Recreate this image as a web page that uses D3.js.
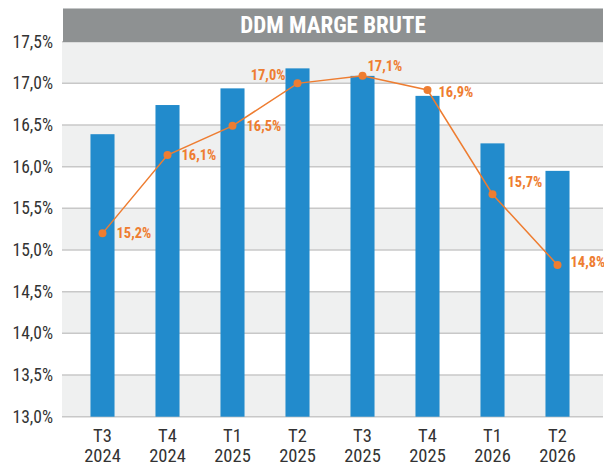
<!DOCTYPE html>
<html>
<head>
<meta charset="utf-8">
<script src="https://cdn.jsdelivr.net/npm/d3@7"></script>
<style>
  body { margin: 0; background: #fff; }
  svg { display: block; }
  text { font-family: "Roboto Condensed", "Liberation Sans Narrow", Roboto, sans-serif; }
</style>
</head>
<body>
<svg id="chart" width="604" height="467"></svg>
<script>
"use strict";

// Data //////////////////////////////////////////////////
var quarters = ["T3", "T4", "T1", "T2", "T3", "T4", "T1", "T2"];
var years = ["2024", "2024", "2025", "2025", "2025", "2025", "2026", "2026"];
var barValues = [16.39, 16.74, 16.94, 17.18, 17.09, 16.85, 16.28, 15.95];
var lineValues = [15.2, 16.14, 16.49, 17.0, 17.09, 16.92, 15.67, 14.82];
var yTicks = [13.0, 13.5, 14.0, 14.5, 15.0, 15.5, 16.0, 16.5, 17.0, 17.5];
var title = "DDM MARGE BRUTE";

// label placement relative to each point [dx, dy, anchor]
var labelPos = [
  [14, 5, "start"], [14, 5, "start"], [14, 5, "start"], [-12, -3, "end"],
  [5, -5, "start"], [11, 7, "start"], [15, -7, "start"], [13, 2, "start"]
];

var svg = d3.select("#chart");
var locale = d3.formatLocale({ decimal: ",", thousands: " ", grouping: [3] });
var fmt = locale.format(".1f");

var x = d3.scaleBand()
    .domain(d3.range(quarters.length))
    .range([70, 590])
    .paddingInner(0.63)
    .paddingOuter(0.315);

var y = d3.scaleLinear()
    .domain([13, 17.5])
    .range([416.7, 41.7]);

var gridLeft = 62, gridRight = 603;

// Alternating bands
svg.append("g").selectAll("rect")
    .data(d3.range(yTicks.length - 1).filter(function(i) { return i % 2 === 0; }))
    .enter().append("rect")
    .attr("x", gridLeft)
    .attr("width", gridRight - gridLeft)
    .attr("y", function(i) { return y(yTicks[i + 1]); })
    .attr("height", function(i) { return y(yTicks[i]) - y(yTicks[i + 1]); })
    .attr("fill", "#eff0f0");

// Gridlines
svg.append("g").selectAll("line")
    .data(yTicks)
    .enter().append("line")
    .attr("x1", gridLeft).attr("x2", gridRight)
    .attr("y1", function(d) { return y(d); })
    .attr("y2", function(d) { return y(d); })
    .attr("stroke", "#c8c8c8")
    .attr("stroke-width", 1.5);

// Y tick labels
svg.append("g").selectAll("text")
    .data(yTicks)
    .enter().append("text")
    .attr("x", 53)
    .attr("y", function(d) { return y(d) + 6; })
    .attr("text-anchor", "end")
    .attr("font-size", 17.5)
    .attr("fill", "#333")
    .text(function(d) { return fmt(d) + "%"; });

// Title bar
svg.append("rect")
    .attr("x", 63).attr("y", 8)
    .attr("width", 540).attr("height", 34)
    .attr("fill", "#8e9192");
svg.append("line")
    .attr("x1", 63).attr("x2", 603)
    .attr("y1", 8.5).attr("y2", 8.5)
    .attr("stroke", "#c4c6c7");
svg.append("text")
    .attr("x", 333).attr("y", 33)
    .attr("text-anchor", "middle")
    .attr("font-size", 23)
    .attr("font-weight", "bold")
    .attr("fill", "#fff")
    .text(title);

// Bars
svg.append("g").selectAll("rect")
    .data(barValues)
    .enter().append("rect")
    .attr("x", function(d, i) { return x(i); })
    .attr("width", x.bandwidth())
    .attr("y", function(d) { return y(d); })
    .attr("height", function(d) { return y(13) - y(d); })
    .attr("fill", "#228bcc");

// X labels: quarter line and year line
var xc = function(i) { return x(i) + x.bandwidth() / 2; };
svg.append("g").selectAll("text")
    .data(quarters)
    .enter().append("text")
    .attr("x", function(d, i) { return xc(i); })
    .attr("y", 442)
    .attr("text-anchor", "middle")
    .attr("font-size", 18.5)
    .attr("fill", "#333")
    .text(function(d) { return d; });
svg.append("g").selectAll("text")
    .data(years)
    .enter().append("text")
    .attr("x", function(d, i) { return xc(i); })
    .attr("y", 462)
    .attr("text-anchor", "middle")
    .attr("font-size", 18.5)
    .attr("fill", "#333")
    .text(function(d) { return d; });

// Line
var line = d3.line()
    .x(function(d, i) { return xc(i); })
    .y(function(d) { return y(d); });

svg.append("path")
    .datum(lineValues)
    .attr("d", line)
    .attr("fill", "none")
    .attr("stroke", "#ee7d31")
    .attr("stroke-width", 1.5);

svg.append("g").selectAll("circle")
    .data(lineValues)
    .enter().append("circle")
    .attr("cx", function(d, i) { return xc(i); })
    .attr("cy", function(d) { return y(d); })
    .attr("r", 4)
    .attr("fill", "#ee7d31");

svg.append("g").selectAll("text")
    .data(lineValues)
    .enter().append("text")
    .attr("x", function(d, i) { return xc(i) + labelPos[i][0]; })
    .attr("y", function(d, i) { return y(d) + labelPos[i][1]; })
    .attr("text-anchor", function(d, i) { return labelPos[i][2]; })
    .attr("font-size", 14.5)
    .attr("font-weight", "bold")
    .attr("fill", "#ee7d31")
    .text(function(d) { return fmt(d) + "%"; });
</script>
</body>
</html>
